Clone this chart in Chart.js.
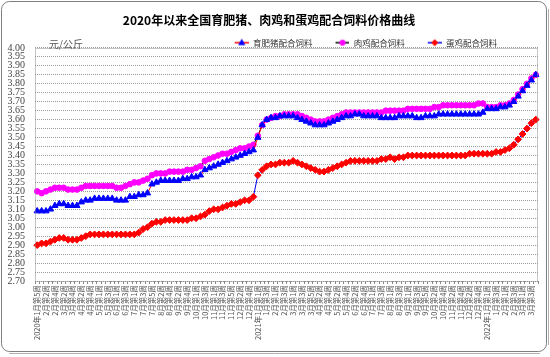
<!DOCTYPE html>
<html><head><meta charset="utf-8">
<script src="https://cdn.jsdelivr.net/npm/chart.js@4.4.1/dist/chart.umd.min.js"></script>
<style>html,body{margin:0;padding:0;background:#fff}#wrap{width:550px;height:357px}</style>
</head><body><div id="wrap"><canvas id="c" width="550" height="357"></canvas></div>
<script>
const titleText = '2020年以来全国育肥猪、肉鸡和蛋鸡配合饲料价格曲线';
const unitText = '元/公斤';
const seriesNames = ['育肥猪配合饲料', '肉鸡配合饲料', '蛋鸡配合饲料'];

const categories = [
 '2020年1月第5周',
 '2月第1周','2月第2周','2月第3周','2月第4周',
 '3月第1周','3月第2周','3月第3周','3月第4周',
 '4月第1周','4月第2周','4月第3周','4月第4周','4月第5周',
 '5月第1周','5月第2周','5月第3周','5月第4周',
 '6月第1周','6月第2周','6月第3周','6月第4周',
 '7月第1周','7月第2周','7月第3周','7月第4周','7月第5周',
 '8月第1周','8月第2周','8月第3周','8月第4周',
 '9月第1周','9月第2周','9月第3周','9月第4周','9月第5周',
 '10月第1周','10月第2周','10月第3周','10月第4周',
 '11月第1周','11月第2周','11月第3周','11月第4周','11月第5周',
 '12月第1周','12月第2周','12月第3周','12月第4周','12月第5周',
 '2021年1月第1周','1月第2周','1月第3周','1月第4周',
 '2月第1周','2月第2周','2月第3周','2月第4周',
 '3月第1周','3月第2周','3月第3周','3月第4周','3月第5周',
 '4月第1周','4月第2周','4月第3周','4月第4周',
 '5月第1周','5月第2周','5月第3周','5月第4周',
 '6月第1周','6月第2周','6月第3周','6月第4周','6月第5周',
 '7月第1周','7月第2周','7月第3周','7月第4周',
 '8月第1周','8月第2周','8月第3周','8月第4周',
 '9月第1周','9月第2周','9月第3周','9月第4周','9月第5周',
 '10月第1周','10月第2周','10月第3周','10月第4周',
 '11月第1周','11月第2周','11月第3周','11月第4周',
 '12月第1周','12月第2周','12月第3周','12月第4周','12月第5周',
 '2022年1月第1周','1月第2周','1月第3周','1月第4周',
 '2月第1周','2月第2周','2月第3周','2月第4周',
 '3月第1周','3月第2周','3月第3周','3月第4周'
];

const pigFeed = [
 3.09,3.09,3.09,3.10,3.12,3.13,3.13,3.12,3.12,3.12,
 3.14,3.15,3.15,3.16,3.16,3.16,3.16,3.16,3.15,3.15,
 3.15,3.17,3.17,3.18,3.18,3.19,3.24,3.25,3.26,3.26,
 3.26,3.26,3.26,3.27,3.27,3.28,3.28,3.29,3.32,3.33,
 3.34,3.35,3.36,3.37,3.38,3.39,3.40,3.41,3.42,3.43,
 3.50,3.57,3.60,3.61,3.61,3.62,3.62,3.62,3.62,3.61,
 3.60,3.59,3.58,3.57,3.57,3.57,3.58,3.59,3.60,3.61,
 3.62,3.62,3.63,3.63,3.62,3.62,3.62,3.62,3.61,3.61,
 3.61,3.61,3.62,3.62,3.62,3.62,3.61,3.61,3.62,3.62,
 3.62,3.63,3.63,3.63,3.63,3.63,3.63,3.63,3.63,3.63,
 3.63,3.64,3.66,3.66,3.66,3.67,3.67,3.68,3.70,3.73,
 3.76,3.79,3.82,3.85
];

const broilerFeed = [
 3.20,3.19,3.20,3.21,3.22,3.22,3.22,3.21,3.21,3.21,
 3.22,3.23,3.23,3.23,3.23,3.23,3.23,3.23,3.22,3.22,
 3.23,3.24,3.25,3.25,3.26,3.27,3.29,3.30,3.30,3.30,
 3.31,3.31,3.31,3.31,3.32,3.32,3.33,3.34,3.37,3.38,
 3.39,3.40,3.41,3.41,3.42,3.43,3.44,3.44,3.45,3.46,
 3.51,3.57,3.60,3.61,3.62,3.62,3.63,3.63,3.63,3.63,
 3.62,3.61,3.60,3.59,3.59,3.59,3.60,3.61,3.62,3.63,
 3.64,3.64,3.64,3.64,3.64,3.64,3.64,3.64,3.64,3.65,
 3.65,3.65,3.65,3.65,3.66,3.66,3.66,3.66,3.66,3.66,
 3.67,3.67,3.68,3.68,3.68,3.68,3.68,3.68,3.68,3.68,
 3.69,3.69,3.67,3.67,3.67,3.68,3.68,3.69,3.71,3.74,
 3.77,3.80,3.83,3.85
];

const layerFeed = [
 2.90,2.91,2.91,2.92,2.93,2.94,2.94,2.93,2.93,2.93,
 2.94,2.95,2.96,2.96,2.96,2.96,2.96,2.96,2.96,2.96,
 2.96,2.96,2.96,2.97,2.99,3.00,3.02,3.03,3.03,3.04,
 3.04,3.04,3.04,3.04,3.04,3.05,3.05,3.06,3.07,3.09,
 3.10,3.10,3.11,3.12,3.13,3.13,3.14,3.15,3.15,3.17,
 3.29,3.32,3.34,3.35,3.35,3.36,3.36,3.36,3.37,3.36,
 3.35,3.34,3.33,3.32,3.31,3.31,3.32,3.33,3.34,3.35,
 3.36,3.37,3.37,3.37,3.37,3.37,3.37,3.37,3.38,3.38,
 3.39,3.38,3.39,3.39,3.40,3.40,3.40,3.40,3.40,3.40,
 3.40,3.40,3.40,3.40,3.40,3.40,3.40,3.40,3.41,3.41,
 3.41,3.41,3.41,3.41,3.42,3.42,3.43,3.44,3.46,3.49,
 3.52,3.55,3.58,3.60
];

const yMin = 2.70, yMax = 4.00, yStep = 0.05;

const CJK = '"Noto Sans CJK SC", "Noto Sans", sans-serif';

function legendIcon(lineColor, markerColor, shape) {
  const cv = document.createElement('canvas');
  cv.width = 35; cv.height = 10;
  const g = cv.getContext('2d');
  g.strokeStyle = lineColor; g.lineWidth = 1.5;
  g.beginPath(); g.moveTo(21, 5); g.lineTo(35, 5); g.stroke();
  g.fillStyle = markerColor; g.strokeStyle = markerColor; g.lineWidth = 1;
  const cx = 28, cy = 5;
  g.beginPath();
  if (shape === 'triangle') { g.moveTo(cx, cy - 4); g.lineTo(cx + 3.6, cy + 2.5); g.lineTo(cx - 3.6, cy + 2.5); g.closePath(); }
  else if (shape === 'circle') { g.arc(cx, cy, 3, 0, Math.PI * 2); }
  else { g.moveTo(cx, cy - 3.6); g.lineTo(cx + 3.6, cy); g.lineTo(cx, cy + 3.6); g.lineTo(cx - 3.6, cy); g.closePath(); }
  g.fill();
  return cv;
}

const frame = {
  id: 'frame',
  beforeDraw(chart) {
    const c = chart.ctx;
    c.save();
    c.fillStyle = '#fff'; c.fillRect(0, 0, chart.width, chart.height);
    c.strokeStyle = '#7f7f7f'; c.lineWidth = 1;
    c.beginPath(); c.roundRect(1.5, 1.5, 545, 350, 8); c.stroke();
    c.strokeStyle = '#b0b0b0';
    c.beginPath(); c.moveTo(9, 353.5); c.lineTo(540, 353.5); c.stroke();
    c.beginPath(); c.moveTo(548.5, 9); c.lineTo(548.5, 345); c.stroke();
    c.restore();
  },
  afterLayout(chart) {
    const lg = chart.legend;
    if (lg) { lg.top += 9; lg.bottom += 9; lg.right = 499; }
  },
  afterDraw(chart) {
    const c = chart.ctx, a = chart.chartArea;
    c.save();
    c.strokeStyle = '#8a8a8a'; c.lineWidth = 1; c.setLineDash([1, 1]);
    c.strokeRect(Math.round(a.left) + 0.5, Math.round(a.top) + 0.5, Math.round(a.right - a.left) - 1, Math.round(a.bottom - a.top));
    c.setLineDash([]);
    c.fillStyle = '#555'; c.font = '10px ' + CJK; c.textBaseline = 'middle';
    c.fillText(unitText, 49, 44);
    c.restore();
  }
};

new Chart(document.getElementById('c'), {
  type: 'line',
  data: {
    labels: categories,
    datasets: [
      { label: seriesNames[0], data: pigFeed, borderColor: '#ff0000', borderWidth: 1,
        pointStyle: 'triangle', pointRadius: 3.6, pointBackgroundColor: '#0000ff', pointBorderColor: '#0000ff', pointBorderWidth: 1 },
      { label: seriesNames[1], data: broilerFeed, borderColor: '#000000', borderWidth: 1,
        pointStyle: 'circle', pointRadius: 2.8, pointBackgroundColor: '#ff00ff', pointBorderColor: '#ff00ff', pointBorderWidth: 1 },
      { label: seriesNames[2], data: layerFeed, borderColor: '#0000ff', borderWidth: 1,
        pointStyle: 'rectRot', pointRadius: 3.4, pointBackgroundColor: '#ff0000', pointBorderColor: '#ff0000', pointBorderWidth: 1 }
    ]
  },
  options: {
    responsive: false,
    animation: false,
    devicePixelRatio: 1,
    layout: { padding: { top: 0, left: 0, right: 12, bottom: 10 } },
    plugins: {
      tooltip: { enabled: false },
      title: { display: true, text: titleText, color: '#000',
        font: { family: CJK, size: 12, weight: 'bold' }, padding: { top: 13, bottom: 0 } },
      legend: {
        display: true, position: 'top', align: 'end',
        labels: {
          usePointStyle: true, pointStyleWidth: 35, padding: 2,
          color: '#333', font: { family: CJK, size: 8.5 },
          generateLabels(chart) {
            const icons = [legendIcon('#ff0000', '#0000ff', 'triangle'), legendIcon('#000000', '#ff00ff', 'circle'), legendIcon('#0000ff', '#ff0000', 'diamond')];
            return chart.data.datasets.map((d, i) => ({ text: d.label, pointStyle: icons[i], fillStyle: 'transparent', strokeStyle: 'transparent', lineWidth: 0, datasetIndex: i, hidden: false, fontColor: '#333' }));
          }
        }
      }
    },
    scales: {
      x: {
        offset: true,
        grid: { display: true, drawOnChartArea: false, drawTicks: true, tickLength: 3, color: '#888', offset: true },
        border: { display: false },
        afterFit(s) { s.height = 66; },
        ticks: {
          autoSkip: false, minRotation: 90, maxRotation: 90, padding: 1,
          color: '#555', font: { family: CJK, size: 7.5 },
          callback(v, i) { return i % 2 === 0 ? categories[i] : ''; }
        }
      },
      y: {
        min: yMin, max: yMax,
        grid: { display: true, drawTicks: false, color: '#9a9a9a', lineWidth: 1 },
        border: { display: false, dash: [1, 1] },
        afterFit(s) { s.width = 35; },
        ticks: {
          stepSize: yStep, autoSkip: false, padding: 10, color: '#444',
          font: { family: '"Liberation Serif", serif', size: 10 },
          callback(v) { return Number(v).toFixed(2); }
        }
      }
    }
  },
  plugins: [frame]
});
</script></body></html>
